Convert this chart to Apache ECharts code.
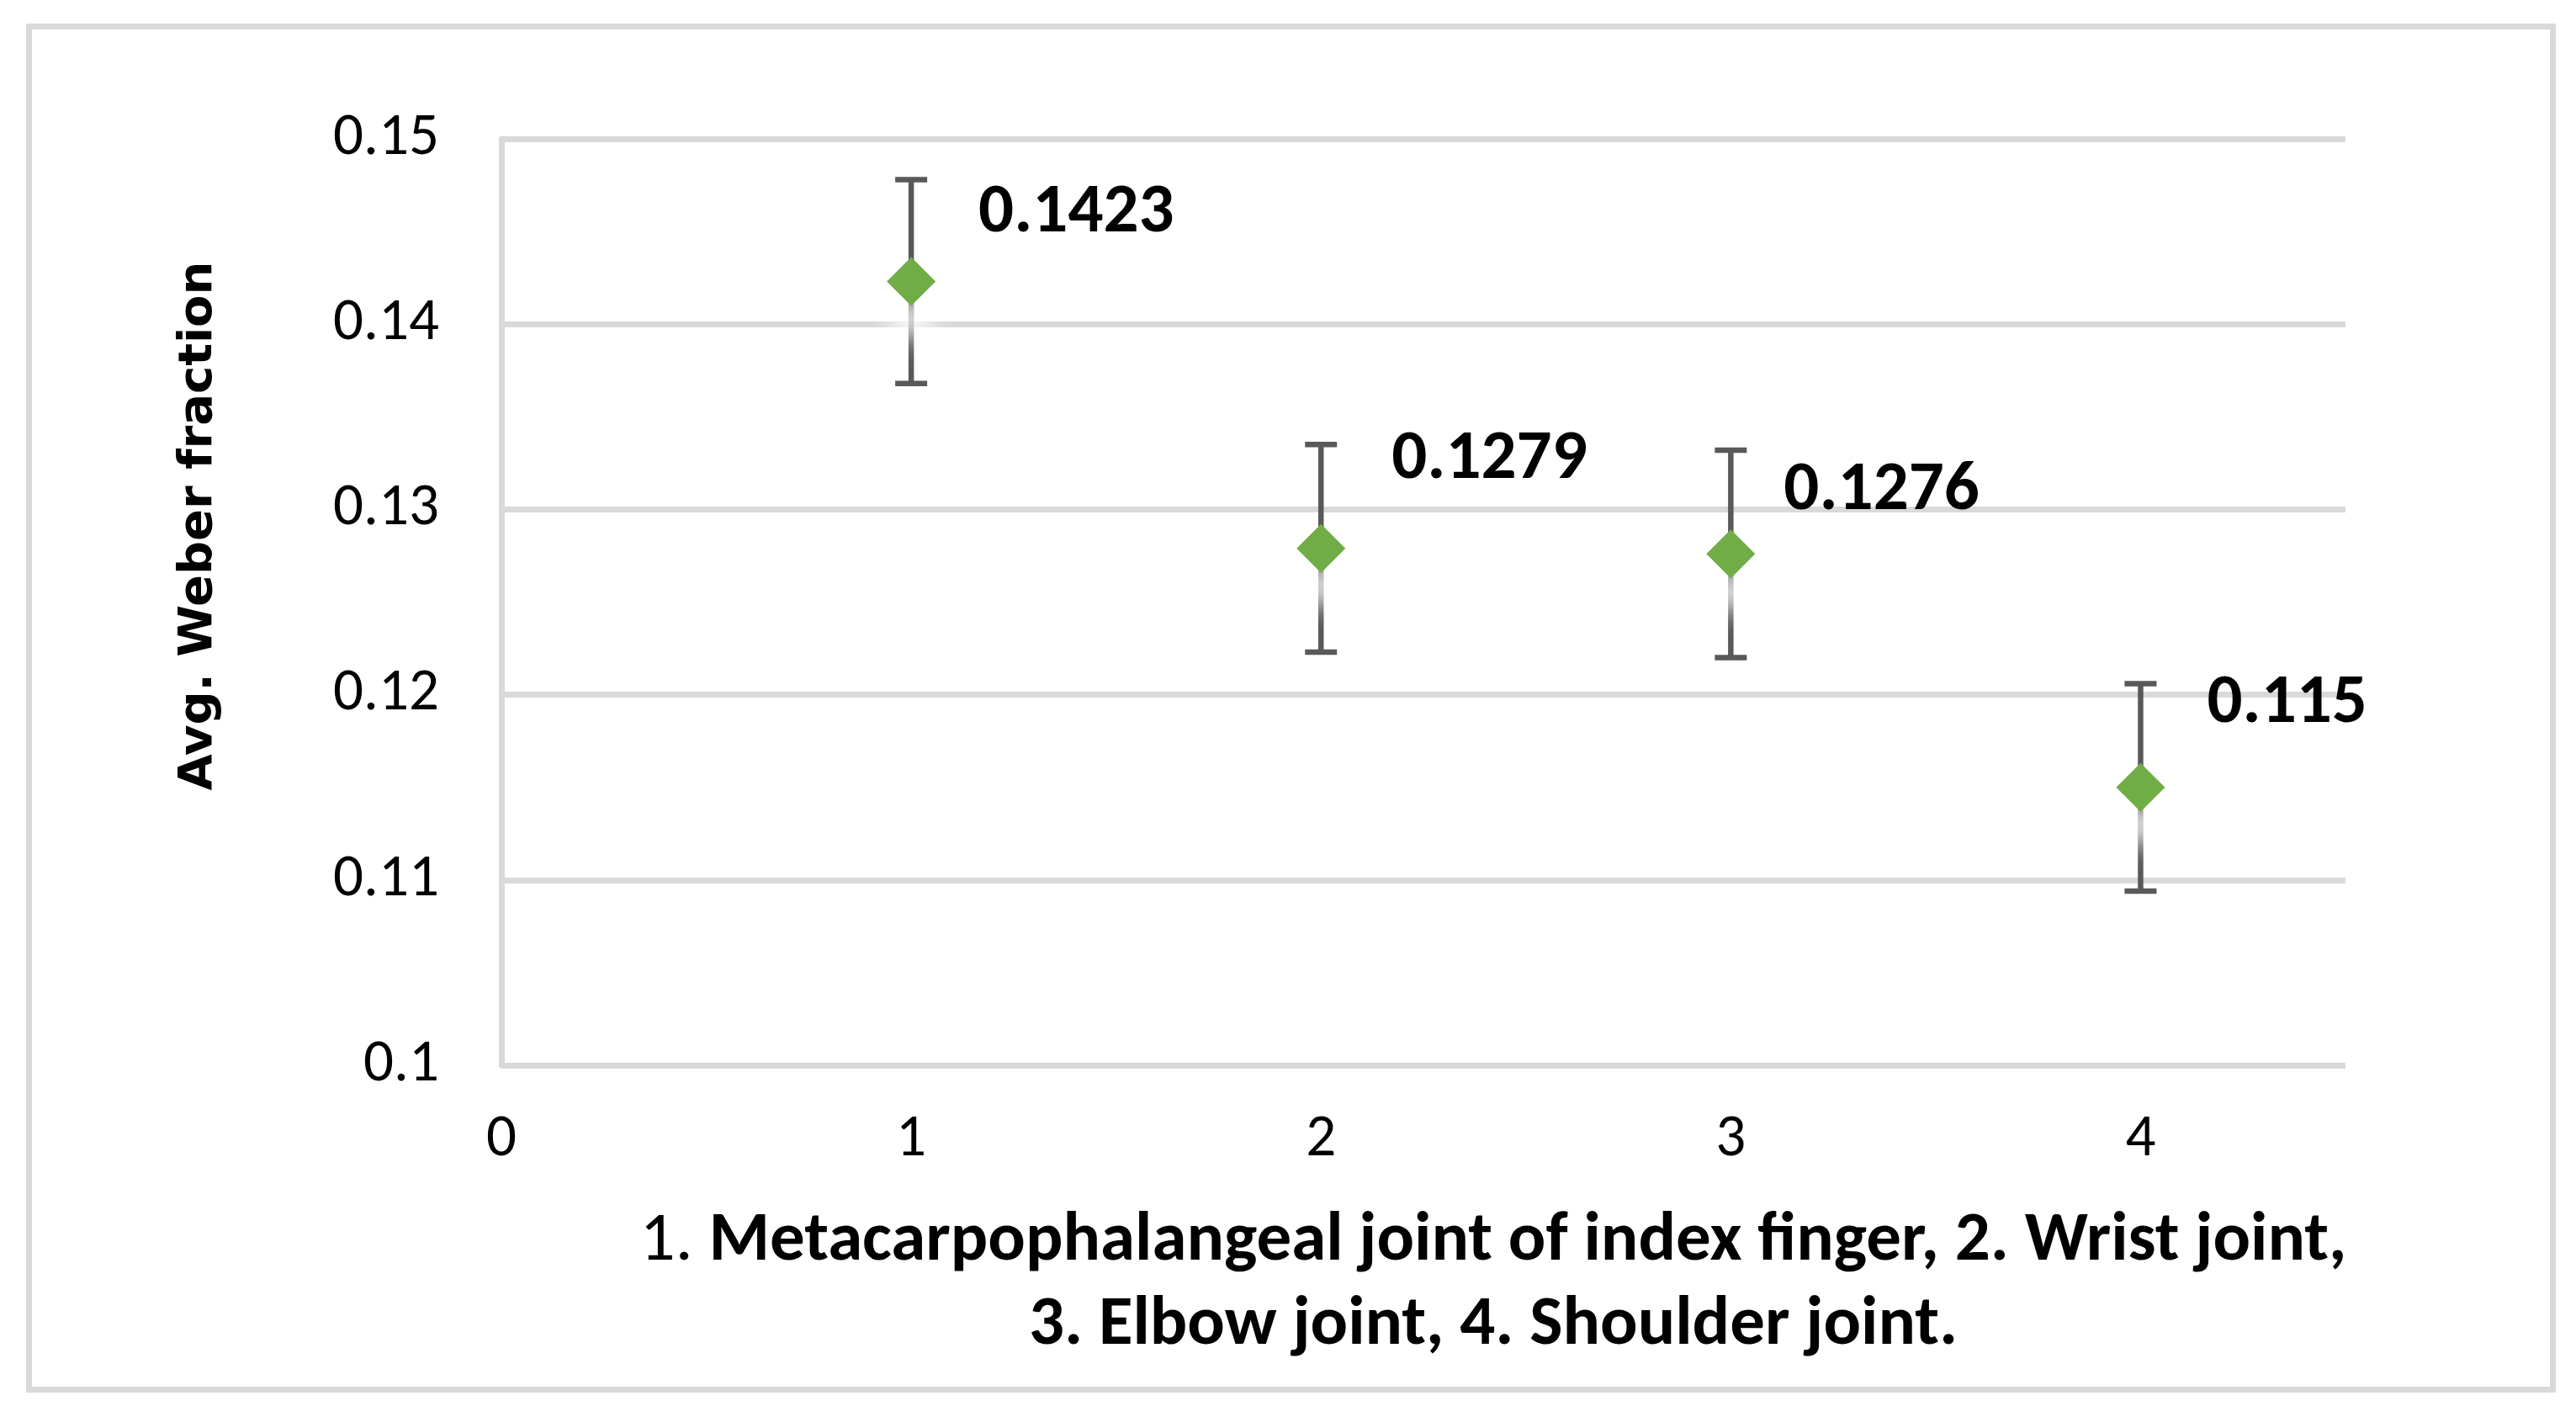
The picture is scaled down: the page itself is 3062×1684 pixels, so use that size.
<!DOCTYPE html>
<html>
<head>
<meta charset="utf-8">
<script src="https://cdn.jsdelivr.net/npm/echarts@6/dist/echarts.min.js"></script>
<style>
html,body{margin:0;padding:0;background:#fff;}
#chart{width:3062px;height:1684px;}
</style>
</head>
<body>
<div id="chart"></div>
<script>
// ---- data ----
const jointIndex = [1, 2, 3, 4];
const avgWeber = [0.1423, 0.1279, 0.1276, 0.115];
const errorSize = [0.0055, 0.0056, 0.0056, 0.0056];
const yTickValues = [0.1, 0.11, 0.12, 0.13, 0.14, 0.15];
const xTickValues = [0, 1, 2, 3, 4];
const yTitle = 'Avg. Weber fraction';
const xTitleLine1Prefix = '1. ';
const xTitleLine1 = 'Metacarpophalangeal joint of index finger, 2. Wrist joint,';
const xTitleLine2 = '3. Elbow joint, 4. Shoulder joint.';

// label nudges (layout only)
const labelNudge = [[52, -80], [56, -104], [35, -74], [51, -98]];

const FONT = 'Carlito, Lato, "Liberation Sans", sans-serif';
const GRID = '#d9d9d9';

const chart = echarts.init(document.getElementById('chart'), null, {renderer: 'canvas'});

const scatterData = jointIndex.map((x, i) => ({
  value: [x, avgWeber[i]],
  label: {offset: [labelNudge[i][0] + 28, labelNudge[i][1]]}
}));
const errData = jointIndex.map((x, i) => [x, avgWeber[i] - errorSize[i], avgWeber[i] + errorSize[i]]);

const option = {
  animation: false,
  backgroundColor: '#ffffff',
  grid: {left: 596, right: 274, top: 165, bottom: 418, containLabel: false},
  xAxis: {
    type: 'value', min: 0, max: 4.5, interval: 1,
    axisLine: {show: false},
    axisTick: {show: false},
    splitLine: {show: false},
    axisLabel: {
      show: true, margin: 54, color: '#000', fontSize: 71, fontFamily: FONT,
      showMaxLabel: false,
      formatter: v => (xTickValues.indexOf(v) >= 0 ? String(v) : '')
    }
  },
  yAxis: {
    type: 'value', min: 0.1, max: 0.15, interval: 0.01,
    axisLine: {show: true, lineStyle: {color: GRID, width: 7}},
    axisTick: {show: false},
    splitLine: {show: true, lineStyle: {color: GRID, width: 7}},
    axisLabel: {
      margin: 74, color: '#000', fontSize: 71, fontFamily: FONT,
      formatter: v => {
        const r = Math.round(v * 100) / 100;
        return yTickValues.indexOf(r) >= 0 ? String(r) : '';
      }
    }
  },
  series: [
    {
      type: 'custom',
      z: 1,
      data: errData,
      renderItem: function (params, api) {
        const x = api.value(0);
        const lo = api.coord([x, api.value(1)]);
        const hi = api.coord([x, api.value(2)]);
        const hw = 19;
        const st = {stroke: '#595959', lineWidth: 6.5, fill: null};
        return {
          type: 'group',
          children: [
            {type: 'line', shape: {x1: lo[0], y1: lo[1], x2: hi[0], y2: hi[1]}, style: st},
            {type: 'line', shape: {x1: lo[0] - hw, y1: lo[1], x2: lo[0] + hw, y2: lo[1]}, style: st},
            {type: 'line', shape: {x1: hi[0] - hw, y1: hi[1], x2: hi[0] + hw, y2: hi[1]}, style: st}
          ]
        };
      }
    },
    {
      type: 'scatter',
      z: 2,
      symbol: 'diamond',
      symbolSize: 58,
      itemStyle: {
        color: '#70ad47',
        opacity: 1,
        shadowColor: 'rgba(255,255,255,1)',
        shadowBlur: 30,
        shadowOffsetY: 45
      },
      emphasis: {disabled: true},
      label: {
        show: true,
        position: 'inside',
        align: 'left',
        verticalAlign: 'middle',
        color: '#000',
        textBorderWidth: 0,
        fontSize: 83,
        fontWeight: 'bold',
        fontFamily: FONT,
        formatter: p => String(p.value[1])
      },
      data: scatterData
    }
  ],
  graphic: [
    {
      type: 'rect',
      shape: {x: 34.5, y: 31.5, width: 3000, height: 1620},
      style: {fill: null, stroke: GRID, lineWidth: 7},
      silent: true
    },
    {
      type: 'text',
      x: 236, y: 625,
      rotation: Math.PI / 2,
      style: {
        text: yTitle,
        fill: '#000',
        fontSize: 56,
        fontWeight: 'bold',
        fontFamily: '"DejaVu Sans", Verdana, sans-serif',
        align: 'center',
        verticalAlign: 'middle'
      }
    },
    {
      type: 'text',
      x: 1775, y: 1526,
      style: {
        text: '{r|' + xTitleLine1Prefix + '}{b|' + xTitleLine1 + '}\n{b|' + xTitleLine2 + '}',
        align: 'center',
        verticalAlign: 'middle',
        fill: '#000',
        rich: {
          r: {fontSize: 83, fontFamily: FONT, fontWeight: 'normal', lineHeight: 100, fill: '#000'},
          b: {fontSize: 83, fontFamily: FONT, fontWeight: 'bold', lineHeight: 100, fill: '#000'}
        }
      }
    }
  ]
};
chart.setOption(option);
</script>
</body>
</html>
